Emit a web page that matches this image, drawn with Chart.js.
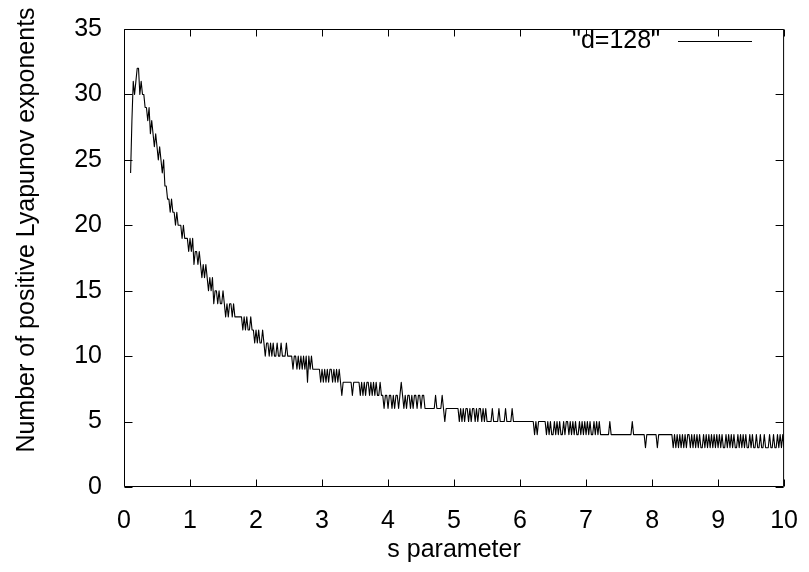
<!DOCTYPE html>
<html>
<head>
<meta charset="utf-8">
<script src="https://cdn.jsdelivr.net/npm/chart.js@4.4.1/dist/chart.umd.min.js"></script>
<style>
  html, body { margin: 0; padding: 0; background: #fff; }
</style>
</head>
<body>
<canvas id="chart" width="809" height="572"></canvas>
<script>
// number of positive Lyapunov exponents, every 0.02 in s
// each block: start value of s, then the counts
const S_STEP = 0.02;
const n0 = [24, 28, 31, 30, 31, 32, 32, 30, 31, 30,
            30, 29, 29, 28, 29, 27, 28, 27, 26, 27,
            26, 25, 26, 25, 24, 25, 23, 23, 22, 22,
            21, 22, 21, 21, 20, 21, 20, 20, 20, 19,
            20, 19, 19, 19, 18];
const n1 = [19, 18, 19, 17, 18, 18, 17, 18, 17, 16,
            17, 16, 17, 16, 15, 16, 15, 16, 14, 15,
            15, 14, 15, 14, 14, 15, 14, 13, 14, 13,
            14, 14, 13, 14, 13, 13, 13, 13, 13, 13,
            12, 13, 12, 13, 12, 12, 13, 12, 12, 11];
const n2 = [12, 11, 12, 11, 11, 12, 11, 10, 11, 11,
            10, 11, 10, 11, 10, 10, 11, 10, 10, 11,
            10, 10, 10, 11, 10, 10, 10, 10, 9, 10,
            10, 9, 10, 9, 10, 9, 10, 9, 10, 8,
            10, 9, 10, 9, 9, 9, 9, 9, 9, 8];
const n3 = [9, 8, 9, 8, 9, 8, 9, 9, 8, 9,
            8, 9, 8, 9, 8, 7, 8, 8, 8, 8,
            8, 8, 8, 7, 8, 8, 8, 8, 8, 7,
            8, 7, 8, 7, 8, 8, 7, 8, 7, 8,
            7, 8, 7, 7, 8, 7, 7, 6, 7, 7];
const n4 = [6, 7, 7, 6, 7, 6, 7, 7, 6, 7,
            8, 7, 6, 7, 6, 7, 7, 6, 7, 6,
            7, 7, 6, 7, 7, 6, 7, 7, 6, 6,
            6, 6, 6, 6, 6, 6, 7, 6, 6, 6,
            6, 7, 6, 5, 6, 6, 6, 6, 6, 6];
const n5 = [6, 6, 6, 6, 5, 6, 5, 6, 5, 6,
            6, 5, 6, 5, 6, 6, 5, 6, 5, 6,
            6, 5, 6, 5, 6, 5, 5, 5, 5, 6,
            5, 5, 5, 5, 6, 5, 5, 5, 5, 6,
            5, 5, 5, 5, 6, 5, 5, 5, 5, 5];
const n6 = [5, 5, 5, 5, 5, 5, 5, 5, 5, 5,
            5, 4, 5, 4, 5, 5, 5, 5, 5, 5,
            4, 5, 4, 5, 4, 4, 5, 4, 5, 4,
            5, 4, 4, 5, 4, 5, 5, 4, 5, 4,
            5, 4, 5, 4, 4, 5, 4, 5, 4, 5];
const n7 = [4, 5, 4, 5, 4, 4, 5, 4, 5, 4,
            5, 4, 4, 4, 4, 4, 4, 4, 5, 4,
            4, 4, 4, 4, 4, 4, 4, 4, 4, 4,
            4, 4, 4, 4, 4, 5, 4, 4, 4, 4,
            4, 4, 4, 4, 4, 3, 4, 4, 4, 4];
const n8 = [4, 4, 4, 4, 3, 4, 4, 4, 4, 4,
            4, 4, 4, 4, 4, 4, 3, 4, 3, 4,
            3, 4, 3, 4, 3, 4, 3, 4, 4, 3,
            4, 3, 4, 3, 4, 3, 4, 3, 3, 4,
            3, 4, 3, 4, 3, 4, 3, 4, 3, 4];
const n9 = [3, 4, 3, 4, 3, 3, 4, 3, 4, 3,
            4, 3, 4, 3, 3, 4, 3, 4, 3, 4,
            3, 4, 3, 3, 4, 3, 4, 3, 3, 4,
            3, 3, 4, 3, 3, 4, 3, 3, 3, 4,
            3, 3, 4, 3, 3, 4, 3, 4, 3, 4,
            3];
const blocks = [[0.10, n0], [1, n1], [2, n2], [3, n3], [4, n4],
                [5, n5], [6, n6], [7, n7], [8, n8], [9, n9]];

const xTicks = [0, 1, 2, 3, 4, 5, 6, 7, 8, 9, 10];
const yTicks = [0, 5, 10, 15, 20, 25, 30, 35];
const seriesLabel = '"d=128"';
const xTitle = 's parameter';
const yTitle = 'Number of positive Lyapunov exponents';

const points = [];
blocks.forEach(([s0, vals]) => {
  vals.forEach((v, i) => points.push({ x: +(s0 + i * S_STEP).toFixed(2), y: v }));
});

const FONT = '"Liberation Sans", Arial, Helvetica, sans-serif';

// gnuplot look: box border, inward ticks on all sides, key with text before sample
const gnuplotFrame = {
  id: 'gnuplotFrame',
  afterDatasetsDraw(chart) {
    const { ctx, chartArea: a, scales: { x, y } } = chart;
    const L = a.left + 0.5, R = a.right - 0.5, T = a.top + 0.5, B = a.bottom - 0.5;
    ctx.save();
    ctx.strokeStyle = '#000';
    ctx.lineWidth = 1;
    ctx.beginPath();
    ctx.rect(L, T, R - L, B - T);
    xTicks.forEach(v => {
      const px = Math.round(x.getPixelForValue(v)) + 0.5;
      ctx.moveTo(px, B); ctx.lineTo(px, B - 7);
      ctx.moveTo(px, T); ctx.lineTo(px, T + 7);
    });
    yTicks.forEach(v => {
      const py = Math.round(y.getPixelForValue(v)) + 0.5;
      ctx.moveTo(L, py); ctx.lineTo(L + 8, py);
      ctx.moveTo(R, py); ctx.lineTo(R - 8, py);
    });
    ctx.stroke();

    // key
    ctx.fillStyle = '#000';
    ctx.font = '25px ' + FONT;
    ctx.textAlign = 'right';
    ctx.textBaseline = 'alphabetic';
    ctx.fillText(chart.data.datasets[0].label, 660, 48);
    ctx.beginPath();
    ctx.moveTo(678, 41.5); ctx.lineTo(752, 41.5);
    ctx.stroke();

    // y axis title
    ctx.translate(34, 230);
    ctx.rotate(-Math.PI / 2);
    ctx.textAlign = 'center';
    ctx.fillText(yTitle, 0, 0);
    ctx.restore();
  }
};

new Chart(document.getElementById('chart'), {
  type: 'line',
  data: {
    datasets: [{
      label: seriesLabel,
      data: points,
      borderColor: '#000',
      borderWidth: 1.1,
      borderJoinStyle: 'round',
      pointRadius: 0,
      tension: 0,
      fill: false
    }]
  },
  options: {
    responsive: false,
    animation: false,
    layout: { padding: { left: 0, top: 20, right: 24, bottom: 0 } },
    plugins: { legend: { display: false }, tooltip: { enabled: false } },
    scales: {
      x: {
        type: 'linear',
        min: 0, max: 10,
        afterBuildTicks: s => { s.ticks = xTicks.map(v => ({ value: v })); },
        afterFit: s => { s.height = 85; },
        grid: { display: false },
        border: { display: false },
        ticks: { color: '#000', padding: 11, maxRotation: 0, font: { family: FONT, size: 25 } },
        title: { display: true, text: xTitle, color: '#000', padding: { top: 0, bottom: 7 }, font: { family: FONT, size: 25 } }
      },
      y: {
        min: 0, max: 35,
        afterBuildTicks: s => { s.ticks = yTicks.map(v => ({ value: v })); },
        afterFit: s => { s.width = 124; },
        grid: { display: false },
        border: { display: false },
        ticks: { color: '#000', padding: 14, font: { family: FONT, size: 25 } }
      }
    }
  },
  plugins: [gnuplotFrame]
});
</script>
</body>
</html>
